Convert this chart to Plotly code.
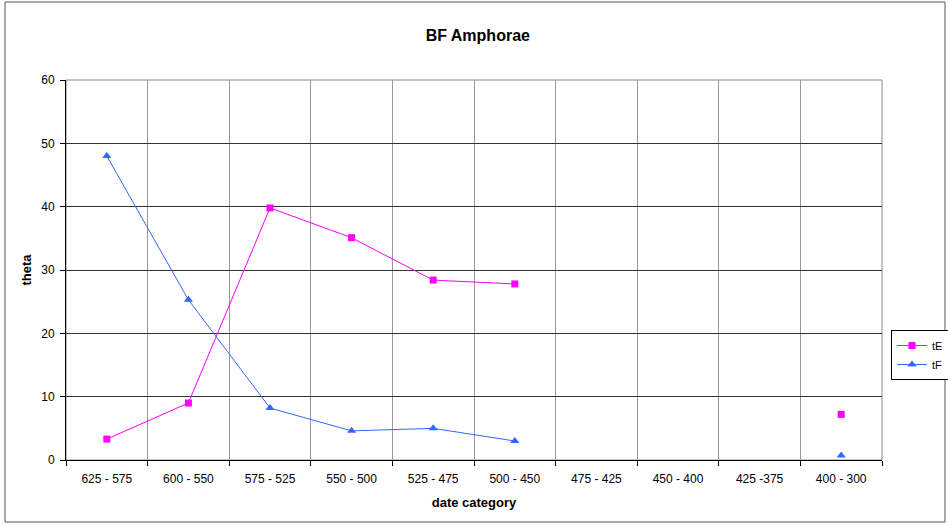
import plotly.graph_objects as go

categories = ["625 - 575", "600 - 550", "575 - 525", "550 - 500", "525 - 475",
              "500 - 450", "475 - 425", "450 - 400", "425 -375", "400 - 300"]
tE = [3.3, 9.0, 39.8, 35.1, 28.4, 27.8, None, None, None, 7.2]
tF = [48.0, 25.3, 8.2, 4.6, 5.0, 3.0, None, None, None, 0.7]
y_ticks = [0, 10, 20, 30, 40, 50, 60]

W, H = 948, 525
L, R, T, B = 66, 66, 80, 65
pw, ph = W - L - R, H - T - B

fig = go.Figure()
fig.add_trace(go.Scatter(x=categories, y=tE, name="tE", mode="lines+markers",
                         line=dict(color="#FF00FF", width=1),
                         marker=dict(symbol="square", size=7, color="#FF00FF"),
                         connectgaps=False))
fig.add_trace(go.Scatter(x=categories, y=tF, name="tF", mode="lines+markers",
                         line=dict(color="#3366FF", width=1),
                         marker=dict(symbol="triangle-up", size=8, color="#3366FF"),
                         connectgaps=False))

def px_x(p):
    return (p - L) / pw

def px_y(p):
    return (H - B - p) / ph

fig.update_layout(
    width=W, height=H,
    margin=dict(l=L, r=R, t=T, b=B, pad=0, autoexpand=False),
    paper_bgcolor="white", plot_bgcolor="white",
    font=dict(family="Liberation Sans, Arial, sans-serif", size=12, color="black"),
    title=dict(text="<b>BF Amphorae</b>", x=0.504, xanchor="center",
               y=1 - 35 / H, yanchor="middle", yref="container",
               font=dict(size=16, color="black")),
    xaxis=dict(type="category", categoryorder="array", categoryarray=categories,
               tickson="boundaries", showgrid=True, gridcolor="#999999", gridwidth=1,
               showline=True, linecolor="black", linewidth=1,
               ticks="outside", ticklen=5, tickcolor="black",
               ticklabelstandoff=8,
               tickfont=dict(size=12),
               range=[-0.5, len(categories) - 0.5],
               title=dict(text="<b>date category</b>", standoff=12,
                          font=dict(size=13))),
    yaxis=dict(range=[0, 60], tickvals=y_ticks, showgrid=True,
               gridcolor="#333333", gridwidth=1,
               showline=True, linecolor="black", linewidth=1,
               ticks="outside", ticklen=5, tickcolor="black",
               ticklabelstandoff=3,
               tickfont=dict(size=12),
               zeroline=False,
               title=dict(text="<b>theta</b>", standoff=6, font=dict(size=13))),
    legend=dict(x=px_x(891), y=px_y(355), xanchor="left", yanchor="middle",
                bordercolor="black", borderwidth=1, bgcolor="white",
                font=dict(size=11), tracegroupgap=0, itemwidth=30),
    showlegend=True,
)

# plot area border (right and top)
fig.add_shape(type="rect", xref="paper", yref="paper", x0=0, x1=1, y0=0, y1=1,
              line=dict(color="#888888", width=1), layer="below")
# outer chart border
fig.add_shape(type="rect", xref="paper", yref="paper",
              x0=px_x(5), x1=px_x(945), y0=px_y(522), y1=px_y(2),
              line=dict(color="#555555", width=1), layer="below")

fig.write_html("out.html", config={"displayModeBar": False},
               post_script="document.body.style.margin='0';document.body.style.overflow='hidden';")
